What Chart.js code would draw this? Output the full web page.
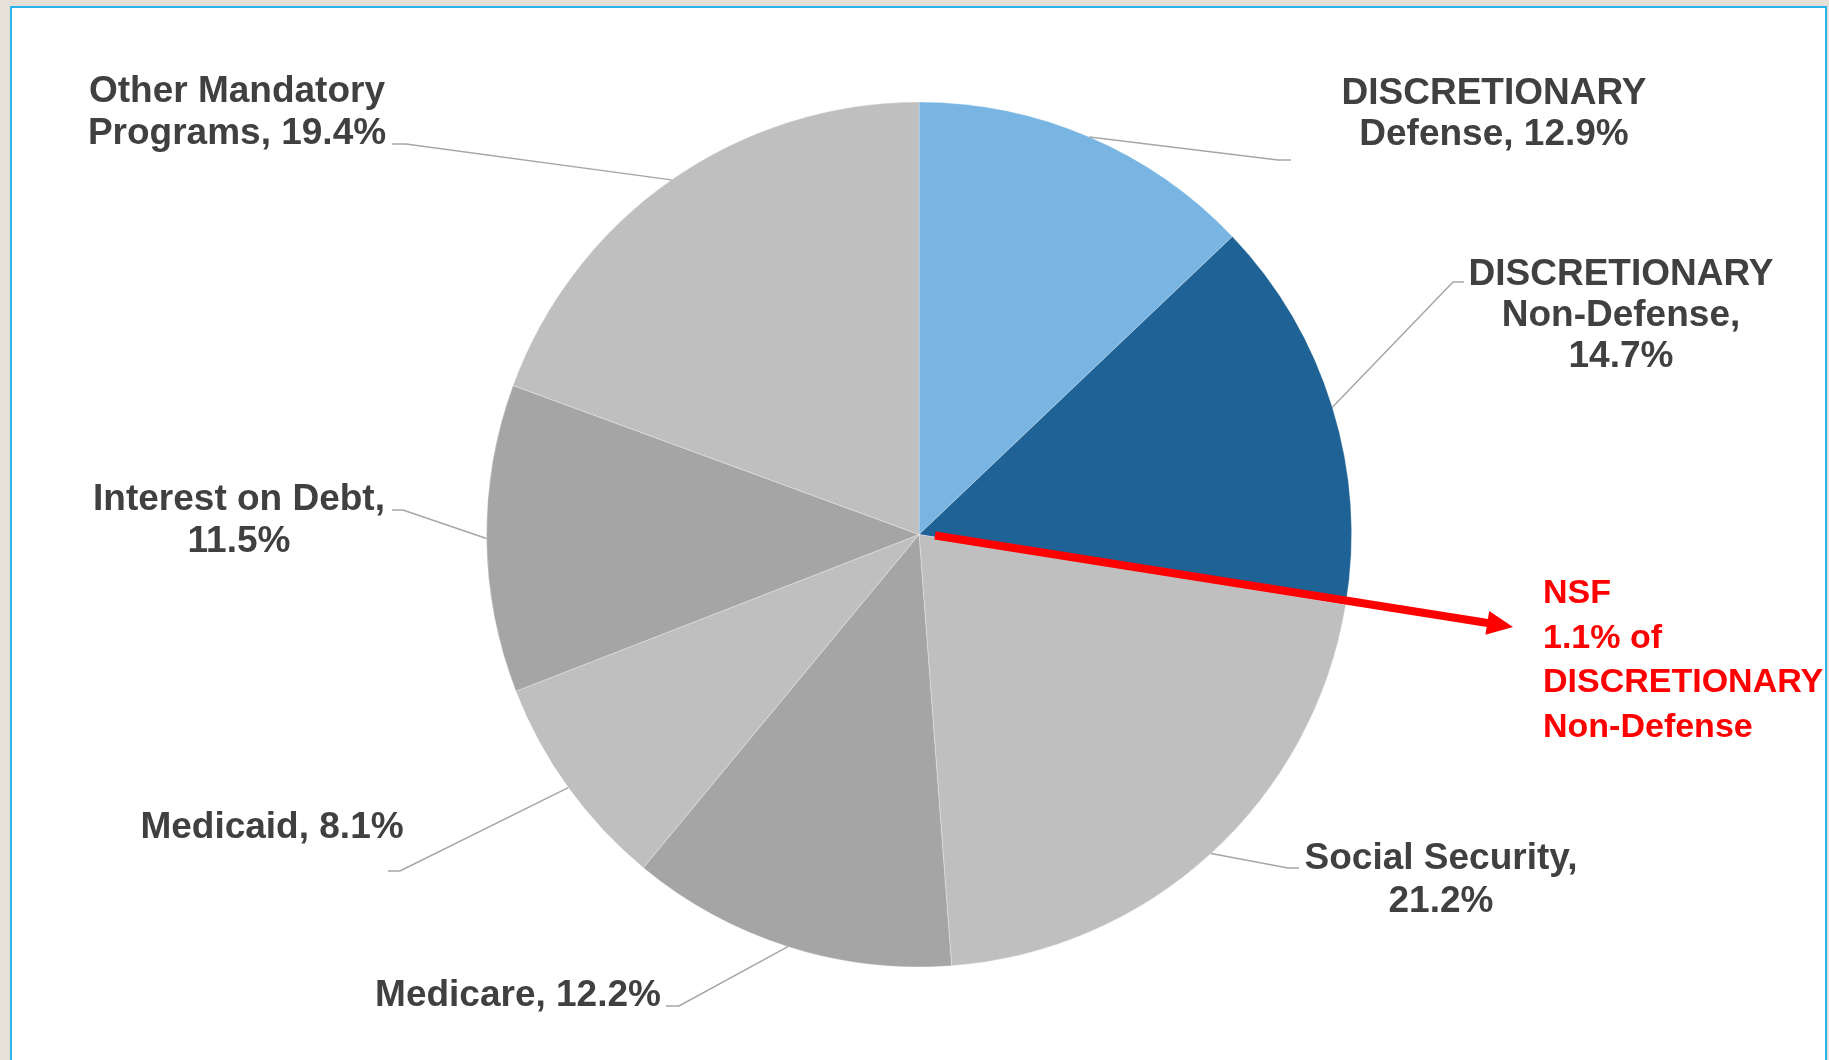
<!DOCTYPE html>
<html>
<head>
<meta charset="utf-8">
<script src="https://cdn.jsdelivr.net/npm/chart.js@4.4.1/dist/chart.umd.min.js"></script>
<style>
    html, body { margin: 0; padding: 0; }
    body { width: 1829px; height: 1060px; background: #e6e0d6; overflow: hidden; position: relative; }
    #panel { position: absolute; left: 10px; top: 6px; width: 1813px; height: 1100px; background: #ffffff; border: 2px solid #2ab4ec; }
    #budget-chart { position: absolute; left: 0; top: 0; }
</style>
</head>
<body>
<div id="panel"></div>
<canvas id="budget-chart" width="1829" height="1060"></canvas>
<script>
// slices, clockwise from 12 o'clock
const categories = ['DISCRETIONARY Defense', 'DISCRETIONARY Non-Defense', 'Social Security', 'Medicare', 'Medicaid', 'Interest on Debt', 'Other Mandatory Programs'];
const shares = [12.9, 14.7, 21.2, 12.2, 8.1, 11.5, 19.4];
const labelTexts = ['DISCRETIONARY\nDefense, {v}', 'DISCRETIONARY\nNon-Defense,\n{v}', 'Social Security,\n{v}', 'Medicare, {v}', 'Medicaid, {v}', 'Interest on Debt,\n{v}', 'Other Mandatory\nPrograms, {v}'];
const sliceColors = ['#78b5e3', '#1f6396', '#bfbfbf', '#a5a5a5', '#bfbfbf', '#a5a5a5', '#bfbfbf'];
const nsfNote = ['NSF', '1.1% of', 'DISCRETIONARY', 'Non-Defense'];

// where each label sits: text centre x, first baseline y, line step, leader elbow and end
const labelLayout = [
    { x: 1494, y: 104, step: 41, elbow: [1278, 160], end: [1291, 160] },
    { x: 1621, y: 285, step: 41, elbow: [1453, 282], end: [1464, 282] },
    { x: 1441, y: 869, step: 43, elbow: [1288, 868], end: [1299, 868] },
    { x: 518, y: 1006, step: 41, elbow: [679, 1006], end: [666, 1006] },
    { x: 272, y: 838, step: 41, elbow: [400, 871], end: [388, 871] },
    { x: 239, y: 510, step: 42, elbow: [403, 510], end: [392, 510] },
    { x: 237, y: 102, step: 42, elbow: [406, 144], end: [392, 144] }
];

const outsideLabels = {
    id: 'outsideLabels',
    afterDraw(chart) {
        const ctx = chart.ctx;
        const arcs = chart.getDatasetMeta(0).data;
        ctx.save();
        arcs.forEach((arc, i) => {
            const lay = labelLayout[i];
            const mid = (arc.startAngle + arc.endAngle) / 2;
            const ex = arc.x + arc.outerRadius * Math.cos(mid);
            const ey = arc.y + arc.outerRadius * Math.sin(mid);

            ctx.strokeStyle = '#a6a6a6';
            ctx.lineWidth = 1.5;
            ctx.beginPath();
            ctx.moveTo(ex, ey);
            ctx.lineTo(lay.elbow[0], lay.elbow[1]);
            ctx.lineTo(lay.end[0], lay.end[1]);
            ctx.stroke();

            const text = labelTexts[i].replace('{v}', shares[i].toFixed(1) + '%');
            ctx.fillStyle = '#404040';
            ctx.font = 'bold 37px "Liberation Sans", Arial, sans-serif';
            ctx.textAlign = 'center';
            ctx.textBaseline = 'alphabetic';
            text.split('\n').forEach((line, k) => {
                ctx.fillText(line, lay.x, lay.y + k * lay.step);
            });
        });

        // NSF call-out with red arrow from the pie centre
        const c = arcs[0];
        const tipX = 1513, tipY = 627;
        const sx = c.x + 16, sy = c.y + 1;
        const ang = Math.atan2(tipY - sy, tipX - sx);
        const headLen = 26, headHalf = 12;
        const bx = tipX - headLen * Math.cos(ang), by = tipY - headLen * Math.sin(ang);
        ctx.strokeStyle = '#ff0000';
        ctx.fillStyle = '#ff0000';
        ctx.lineWidth = 8;
        ctx.lineCap = 'butt';
        ctx.beginPath();
        ctx.moveTo(sx, sy);
        ctx.lineTo(bx + 2 * Math.cos(ang), by + 2 * Math.sin(ang));
        ctx.stroke();
        ctx.beginPath();
        ctx.moveTo(tipX, tipY);
        ctx.lineTo(bx - headHalf * Math.sin(ang), by + headHalf * Math.cos(ang));
        ctx.lineTo(bx + headHalf * Math.sin(ang), by - headHalf * Math.cos(ang));
        ctx.closePath();
        ctx.fill();

        ctx.font = 'bold 34px "Liberation Sans", Arial, sans-serif';
        ctx.textAlign = 'left';
        nsfNote.forEach((line, k) => {
            ctx.fillText(line, 1543, 603 + k * 44.7);
        });
        ctx.restore();
    }
};

new Chart(document.getElementById('budget-chart').getContext('2d'), {
    type: 'pie',
    data: {
        labels: categories,
        datasets: [{
            data: shares,
            backgroundColor: sliceColors,
            borderColor: 'rgba(255,255,255,0.3)',
            borderWidth: 1
        }]
    },
    options: {
        responsive: false,
        animation: false,
        layout: {
            padding: { left: 486, right: 477, top: 101, bottom: 92 }
        },
        plugins: {
            legend: { display: false },
            tooltip: { enabled: false }
        }
    },
    plugins: [outsideLabels]
});
</script>
</body>
</html>
